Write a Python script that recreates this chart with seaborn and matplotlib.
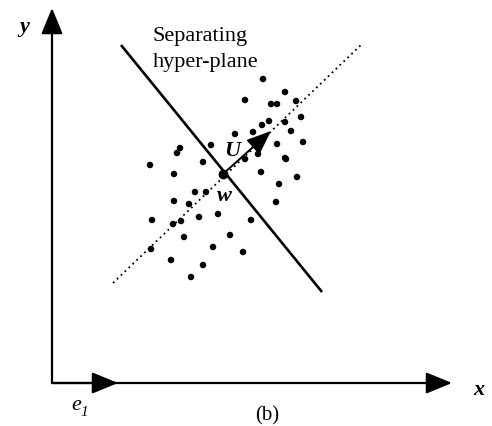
import matplotlib
matplotlib.use("Agg")
import matplotlib.pyplot as plt
import seaborn as sns
import pandas as pd

# data points (pixel-like diagram coordinates, y downward)
pts_x = [263, 285, 245, 271, 277, 296, 285, 301, 269, 262, 253, 235, 291, 303, 277, 211,
         180, 177, 258, 285, 150, 203, 245, 286, 174, 261, 297, 279, 195, 206, 174, 189,
         276, 152, 173, 181, 199, 218, 251, 184, 230, 151, 213, 243, 171, 203, 191]
pts_y = [79, 92, 100, 104, 104, 101, 122, 117, 121, 125, 132, 134, 131, 142, 144, 145,
         148, 153, 154, 158, 165, 162, 159, 159, 174, 172, 177, 184, 192, 192, 201, 204,
         202, 220, 224, 221, 217, 214, 220, 237, 235, 249, 247, 252, 260, 265, 277]

w_point = (223, 174)
u_tip = (271, 131)
plane_x = [121, 322]
plane_y = [45, 292]
dir_x = [113, 362]
dir_y = [283, 44]
origin = (52, 383)
x_end = (452, 383)
y_end = (52, 8)
e1_end = (118, 383)

sns.set_theme(style="white")
plt.rcParams['font.family'] = ['Liberation Serif', 'DejaVu Serif']
plt.rcParams['text.color'] = 'black'

fig = plt.figure(figsize=(4.92, 4.26), dpi=100)
ax = fig.add_axes([0, 0, 1, 1])
ax.set_xlim(0, 492)
ax.set_ylim(426, 0)
ax.axis('off')

df = pd.DataFrame({'x': pts_x, 'y': pts_y})
sns.scatterplot(data=df, x='x', y='y', ax=ax, color='black', s=22,
                edgecolor='none', marker='o', legend=False, zorder=3)

# separating plane and direction
ax.plot(plane_x, plane_y, color='black', lw=1.9, solid_capstyle='butt', zorder=2)
ax.plot(dir_x, dir_y, color='black', lw=1.3, linestyle=(0, (1, 2)), zorder=2)
ax.plot([w_point[0]], [w_point[1]], 'o', color='black', ms=6, zorder=4)

def arrow(start, end, lw=1.6, hl=0.8, hw=0.33, ms=20):
    ax.annotate('', xy=end, xytext=start,
                arrowprops=dict(arrowstyle=f'-|>,head_length={hl},head_width={hw}',
                                color='black', lw=lw, mutation_scale=ms,
                                shrinkA=0, shrinkB=0))

arrow(origin, y_end)
arrow(origin, x_end)
arrow(origin, e1_end)
arrow(w_point, u_tip, lw=1.4, hl=0.75, hw=0.3)

ax.text(153, 36, 'Separating', ha='left', va='center', fontsize=16)
ax.text(153, 63, 'hyper-plane', ha='left', va='center', fontsize=16)
ax.text(24, 27, 'y', ha='center', va='center', fontsize=16, style='italic', weight='bold')
ax.text(479, 390, 'x', ha='center', va='center', fontsize=16, style='italic', weight='bold')
ax.text(232, 151, 'U', ha='center', va='center', fontsize=16, style='italic', weight='bold')
ax.text(224, 196, 'w', ha='center', va='center', fontsize=16, style='italic', weight='bold')
ax.text(76, 406, 'e', ha='center', va='center', fontsize=16, style='italic')
ax.text(84, 412, '1', ha='center', va='center', fontsize=11, style='italic')
ax.text(267, 416, '(b)', ha='center', va='center', fontsize=15)

fig.savefig('out.png', dpi=100)
